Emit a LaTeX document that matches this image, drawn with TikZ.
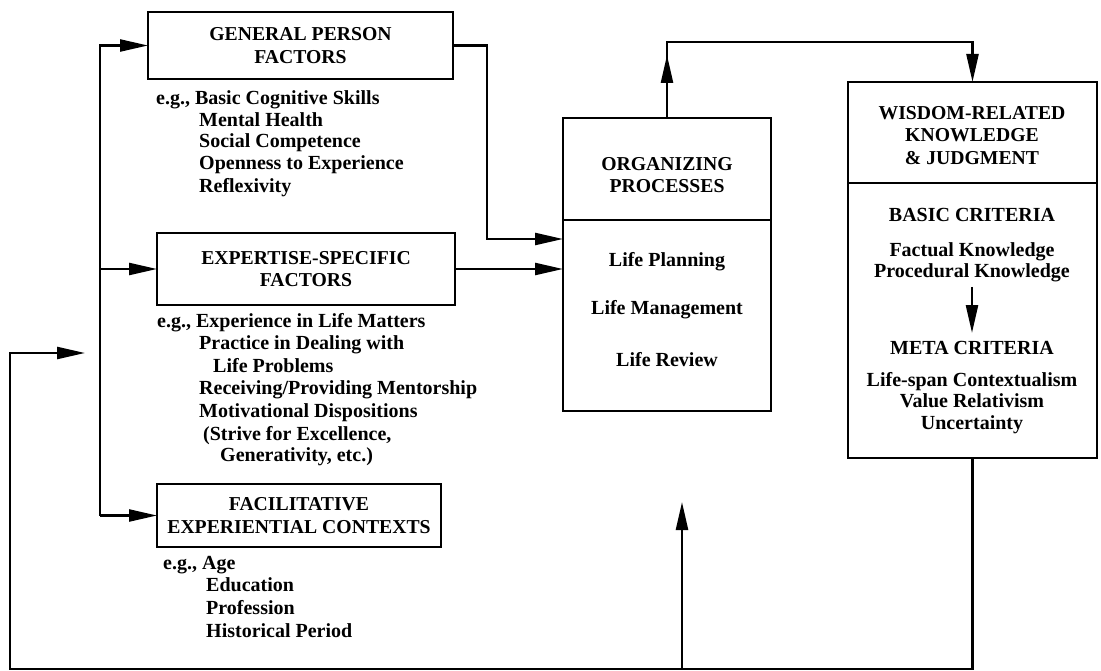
\documentclass[tikz,border=0pt]{standalone}
\usepackage{fontspec}
\setmainfont{Liberation Serif}
\usetikzlibrary{arrows.meta}
\newcommand\figtitle{\fontsize{19.7}{22.5}\selectfont\bfseries}
\newcommand\figbody{\fontsize{20}{22}\selectfont\bfseries}
\begin{document}
\begin{tikzpicture}[x=1pt,y=-1pt,
  box/.style={draw, line width=2.4pt, rectangle, inner sep=0pt, outer sep=0pt,
              align=center, font=\figtitle},
  ttl/.style={inner sep=0pt, align=center, font=\figtitle},
  ln/.style={inner sep=0pt, anchor=west, font=\figbody, text height=13pt, text depth=4pt},
  cl/.style={inner sep=0pt, font=\figbody, text height=13pt, text depth=4pt},
  conn/.style={line width=2.4pt},
  arr/.style={conn, -{Triangle[length=28pt,width=12pt]}}]
\useasboundingbox (0,0) rectangle (1101,671);

% ---- input boxes
\node[box, minimum width=305pt, minimum height=67pt] (gp) at (300.5,45.5)
  {GENERAL PERSON\\FACTORS};
\node[box, minimum width=298pt, minimum height=72pt] (exp) at (306,269)
  {EXPERTISE-SPECIFIC\\FACTORS};
\node[box, minimum width=284pt, minimum height=63pt] (fec) at (299,515.5)
  {FACILITATIVE\\EXPERIENTIAL CONTEXTS};

% ---- examples under each input box
\node[ln] (gpl1) at (156,100) {e.g., Basic Cognitive Skills};
\node[ln] (gpl2) at (199,122) {Mental Health};
\node[ln] (gpl3) at (199,143) {Social Competence};
\node[ln] (gpl4) at (199,165) {Openness to Experience};
\node[ln] (gpl5) at (199,188) {Reflexivity};

\node[ln] (exl1) at (157,323) {e.g., Experience in Life Matters};
\node[ln] (exl2) at (199,345) {Practice in Dealing with};
\node[ln] (exl3) at (213,368) {Life Problems};
\node[ln] (exl4) at (199,390) {Receiving/Providing Mentorship};
\node[ln] (exl5) at (199,413) {Motivational Dispositions};
\node[ln] (exl6) at (203,436) {(Strive for Excellence,};
\node[ln] (exl7) at (220,457) {Generativity, etc.)};

\node[ln] (fcl1) at (163,565) {e.g., Age};
\node[ln] (fcl2) at (206,587) {Education};
\node[ln] (fcl3) at (206,610) {Profession};
\node[ln] (fcl4) at (206,633) {Historical Period};

% ---- organizing processes
\node[box, minimum width=208pt, minimum height=102pt] (orgT) at (667,169) {};
\node[box, minimum width=208pt, minimum height=191pt] (orgB) at (667,315.5) {};
\node[ttl] (orgTitle) at (667,175) {ORGANIZING\\PROCESSES};
\node[cl] (op1) at (667,262) {Life Planning};
\node[cl] (op2) at (667,310) {Life Management};
\node[cl] (op3) at (667,362) {Life Review};

% ---- wisdom-related knowledge
\node[box, minimum width=249pt, minimum height=101pt] (wrkT) at (972.5,132.5) {};
\node[box, minimum width=249pt, minimum height=275pt] (wrkB) at (972.5,320.5) {};
\node[ttl] (wrkTitle) at (972,135.5) {WISDOM-RELATED\\KNOWLEDGE\\\& JUDGMENT};
\node[cl] (bc0) at (972,217) {BASIC CRITERIA};
\node[cl] (bc1) at (972,252) {Factual Knowledge};
\node[cl] (bc2) at (972,273) {Procedural Knowledge};
\node[cl] (mc0) at (972,350) {META CRITERIA};
\node[cl] (mc1) at (972,382) {Life-span Contextualism};
\node[cl] (mc2) at (972,403) {Value Relativism};
\node[cl] (mc3) at (972,425) {Uncertainty};

% ---- helper points
\coordinate (spine) at (100,0);
\coordinate (gpTurn) at (487,0);
\coordinate (yTop) at (0,42);
\coordinate (yBot) at (0,669);
\coordinate (xLeft) at (10,0);
\coordinate (fbTip) at (85,353);
\coordinate (upBase) at (682,669);
\coordinate (bmA) at (972,287);
\coordinate (bmB) at (972,333);
\path (orgB.north west) ++(0,19) coordinate (inA);

% ---- distribution to the three input boxes
\draw[arr] (spine |- fec.west) |- (gp.west);
\draw[arr] (spine |- exp.west) -- (exp.west);
\draw[arr] (spine |- fec.west) -- (fec.west);

% ---- inputs into organizing processes
\draw[arr] (gp.east) -- (gpTurn |- gp.east) |- (inA);
\draw[arr] (exp.east) -- (exp.east -| orgB.west);

% ---- organizing processes to wisdom-related knowledge
\draw[arr] (orgT.north) -- ++(0,-63);
\draw[arr] (orgT.north) -- (orgT.north |- yTop) -| (wrkT.north);

% ---- basic to meta criteria
\draw[arr] (bmA) -- (bmB);

% ---- feedback loop
\draw[arr] (wrkB.south) -- (wrkB.south |- yBot) -- (xLeft |- yBot) |- (fbTip);
\draw[arr] (upBase) -- ++(0,-167);
\end{tikzpicture}
\end{document}
